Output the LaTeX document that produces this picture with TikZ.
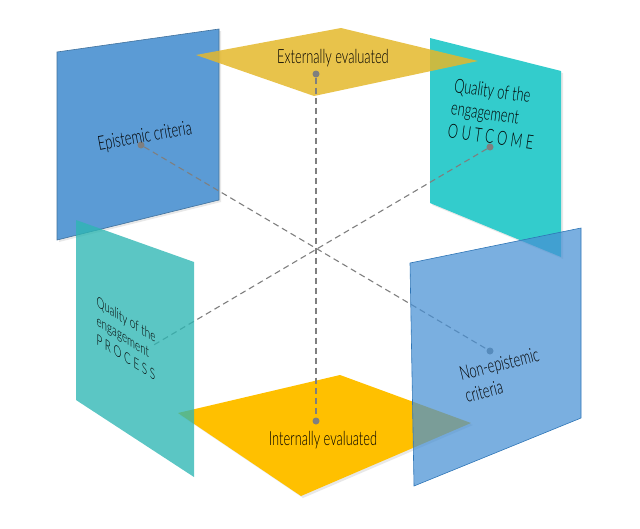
\documentclass[tikz,border=0pt]{standalone}
\usepackage{fontspec}
\newfontfamily\agency{Lato Light}[FakeStretch=0.66]
\usepackage{tikz}
\usetikzlibrary{positioning}
\usetikzlibrary{shadows}
\definecolor{epiblue}{HTML}{5B9BD5}
\definecolor{epiedge}{HTML}{41719C}
\definecolor{nonblue}{HTML}{4790D4}
\definecolor{nonedge}{HTML}{2E75B6}
\definecolor{outteal}{HTML}{33CCCC}
\definecolor{proteal}{HTML}{2DB6B3}
\definecolor{extgold}{HTML}{E4B82C}
\definecolor{intgold}{HTML}{FFC000}
\definecolor{guidegray}{HTML}{7F7F7F}

\begin{document}
\begin{tikzpicture}[
    x=1pt, y=-1pt,
    plane/.style={drop shadow={shadow xshift=2pt, shadow yshift=-2pt, opacity=0.18}},
    glass/.style={fill opacity=#1},
    guide/.style={draw=guidegray, line width=1.1pt, dash pattern=on 6pt off 4pt},
    endpt/.style={circle, fill=guidegray, inner sep=0pt, minimum size=7pt},
    word/.style={font=\agency\fontsize{19.5}{23}\selectfont, text=black, inner sep=0pt}
  ]
  \useasboundingbox (0,0) rectangle (640,528);

  % back planes
  \fill[plane, fill=epiblue, draw=epiedge, line width=0.6pt] (57,52) -- (219,29) -- (219,200) -- (57,240) -- cycle;
  \fill[plane, fill=outteal] (430,38) -- (561,71) -- (561,257) -- (430,203) -- cycle;
  \fill[glass=0.85, fill=extgold] (196,55) -- (341,28) -- (478,61) -- (314,96) -- cycle;
  \fill[plane, fill=intgold] (178,413) -- (340,375) -- (471,423) -- (301,496) -- cycle;

  % hub points
  \node[endpt] (ext) at (316,74) {};
  \node[endpt] (int) at (316,421) {};
  \node[endpt] (epi) at (141,145) {};
  \node[endpt] (out) at (490,147) {};
  \node[endpt] (non) at (490,351) {};
  \coordinate (pro) at (152,346);

  \draw[guide] (ext) -- (int);
  \draw[guide] (epi) -- (non);
  \draw[guide] (out) -- (pro);

  % front planes
  \fill[glass=0.78, fill=proteal] (76,220) -- (194,262) -- (194,477) -- (76,400) -- cycle;
  \fill[glass=0.72, fill=nonblue, draw=nonedge, line width=0.6pt] (410,263) -- (581,228) -- (581,418) -- (414,486) -- cycle;

  % texts
  \node[word] (exttext) at (333,58) {Externally evaluated};
  \node[word] (inttext) at (323,440) {Internally evaluated};
  \node[word, rotate=10] (epitext) at (145,137) {Epistemic criteria};
  \node[word, rotate=-8, align=left] (outtext) at (494,114) {Quality of the\\engagement\\O U T C O M E};
  \node[word, rotate=14, align=left] (nontext) at (502,375) {Non-epistemic\\criteria};
  \node[word, yslant=-0.62, align=left, font=\agency\fontsize{15}{19}\selectfont] (protext) at (126,338) {Quality of the\\engagement\\P R O C E S S};
\end{tikzpicture}
\end{document}
